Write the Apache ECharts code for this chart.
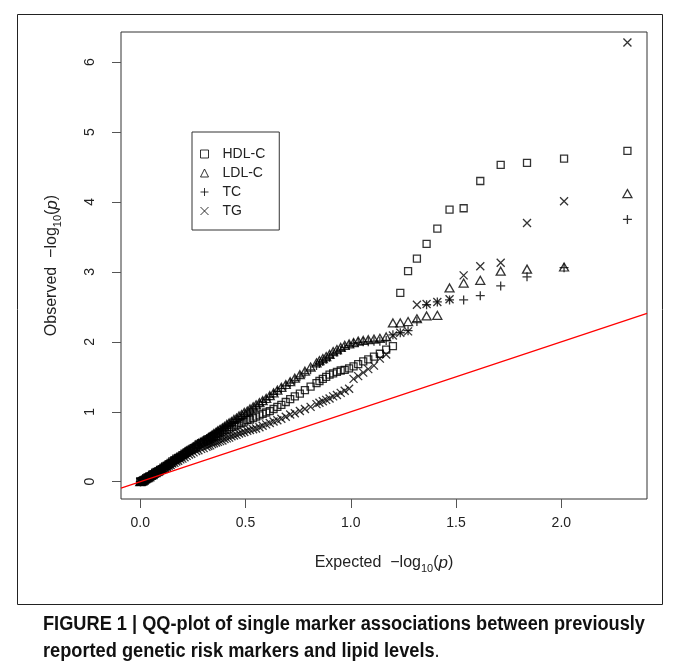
<!DOCTYPE html>
<html>
<head>
<meta charset="utf-8">
<script src="https://cdn.jsdelivr.net/npm/echarts@6/dist/echarts.min.js"></script>
<style>
html,body{margin:0;padding:0;background:#fff;}
#chart{width:673px;height:670px;}
</style>
</head>
<body>
<div id="chart"></div>
<script>
// Rank of each marker (sorted p-values) and its expected -log10(p)
const ranks = [1,2,3,4,5,6,7,8,9,10,11,12,13,14,15,16,17,18,19,20,21,22,23,24,25,26,27,28,29,30,
  32,34,36,38,40,42,44,46,48,50,52,54,56,58,
  60,62,64,66,68,70,72,74,76,78,80,82,84,86,88,90,92,94,96,98,
  100,103,106,109,112,115,118,121,124,127,130,133,136,139,142,145,148,151,154,157,160,163,166,169,172,175,178,181,184,187,190,193,196,199,202,205,206];
const expected = [2.314,2.013,1.837,1.712,1.615,1.536,1.469,1.411,1.360,1.314,1.272,1.235,1.200,1.168,1.138,1.110,1.083,1.059,1.035,1.013,0.992,0.971,0.952,0.934,0.916,0.899,0.883,0.867,0.851,0.837,
  0.809,0.782,0.758,0.734,0.712,0.691,0.670,0.651,0.633,0.615,0.598,0.581,0.566,0.550,
  0.536,0.521,0.508,0.494,0.481,0.469,0.457,0.445,0.433,0.422,0.411,0.400,0.390,0.379,0.369,0.360,0.350,0.341,0.332,0.323,
  0.314,0.301,0.289,0.276,0.265,0.253,0.242,0.231,0.220,0.210,0.200,0.190,0.180,0.171,0.162,0.152,0.144,0.135,0.126,0.118,0.110,0.102,0.094,0.086,0.078,0.071,0.063,0.056,0.049,0.042,0.035,0.028,0.022,0.015,0.009,0.002,0.000];

// Observed -log10(p) for each trait, same order as ranks
const hdlC = [4.73,4.62,4.56,4.53,4.30,3.91,3.89,3.62,3.40,3.19,3.01,2.70,1.94,1.89,1.83,1.79,1.75,1.72,1.68,1.65,1.62,1.60,1.59,1.57,1.55,1.53,1.50,1.47,1.44,1.41,
  1.36,1.31,1.26,1.22,1.18,1.14,1.10,1.07,1.04,1.01,0.99,0.97,0.95,0.93,
  0.91,0.89,0.88,0.86,0.84,0.83,0.81,0.79,0.78,0.76,0.74,0.73,0.71,0.70,0.68,0.66,0.65,0.64,0.62,0.61,
  0.59,0.57,0.55,0.53,0.50,0.48,0.46,0.44,0.42,0.40,0.38,0.36,0.34,0.33,0.31,0.29,0.27,0.25,0.23,0.22,0.20,0.18,0.17,0.15,0.14,0.13,0.11,0.10,0.08,0.07,0.06,0.05,0.03,0.02,0.01,0.00,0.00];
const ldlC = [4.12,3.07,3.04,3.01,2.88,2.84,2.77,2.38,2.37,2.33,2.29,2.27,2.27,2.07,2.05,2.04,2.03,2.02,2.01,1.99,1.97,1.95,1.92,1.89,1.86,1.82,1.79,1.76,1.73,1.70,
  1.64,1.58,1.53,1.48,1.43,1.39,1.35,1.31,1.27,1.23,1.19,1.16,1.13,1.10,
  1.07,1.04,1.01,0.99,0.96,0.94,0.91,0.89,0.86,0.84,0.82,0.79,0.77,0.75,0.73,0.71,0.69,0.67,0.65,0.63,
  0.61,0.59,0.57,0.55,0.53,0.50,0.48,0.46,0.44,0.42,0.39,0.37,0.35,0.34,0.32,0.30,0.28,0.26,0.24,0.23,0.21,0.19,0.18,0.16,0.15,0.13,0.12,0.10,0.09,0.07,0.06,0.05,0.04,0.02,0.01,0.01,0.00];
const tcVals = [3.75,3.06,2.93,2.80,2.66,2.60,2.60,2.57,2.53,2.29,2.16,2.13,2.10,2.02,2.01,2.01,2.00,2.00,1.99,1.98,1.95,1.92,1.88,1.85,1.82,1.78,1.75,1.72,1.69,1.66,
  1.60,1.55,1.50,1.45,1.41,1.37,1.33,1.29,1.25,1.21,1.17,1.14,1.10,1.07,
  1.04,1.01,0.98,0.96,0.93,0.91,0.89,0.86,0.84,0.82,0.80,0.78,0.76,0.74,0.72,0.70,0.68,0.66,0.64,0.62,
  0.60,0.58,0.56,0.54,0.52,0.49,0.47,0.45,0.43,0.41,0.39,0.37,0.35,0.33,0.31,0.29,0.28,0.26,0.24,0.22,0.21,0.19,0.17,0.16,0.14,0.13,0.11,0.10,0.09,0.07,0.06,0.05,0.04,0.02,0.01,0.00,0.00];
const tgVals = [6.28,4.01,3.70,3.13,3.08,2.95,2.61,2.57,2.54,2.53,2.15,2.13,2.09,1.82,1.76,1.66,1.61,1.56,1.51,1.47,1.33,1.30,1.27,1.24,1.22,1.19,1.17,1.15,1.13,1.11,
  1.07,1.04,1.01,0.98,0.96,0.93,0.90,0.88,0.86,0.84,0.82,0.80,0.78,0.76,
  0.75,0.74,0.73,0.71,0.70,0.69,0.67,0.66,0.65,0.63,0.62,0.61,0.59,0.58,0.57,0.56,0.55,0.54,0.52,0.51,
  0.50,0.48,0.47,0.45,0.44,0.42,0.40,0.39,0.37,0.35,0.33,0.32,0.30,0.29,0.27,0.26,0.24,0.23,0.21,0.20,0.18,0.17,0.16,0.14,0.13,0.12,0.10,0.09,0.08,0.07,0.06,0.04,0.03,0.02,0.01,0.00,0.00];

const seriesNames = ['HDL-C','LDL-C','TC','TG'];
const xTicks = [0, 0.5, 1, 1.5, 2];
const yTicks = [0, 1, 2, 3, 4, 5, 6];
const xRange = [-0.0917, 2.407];
const yRange = [-0.247, 6.43];
const diagonal = [xRange[0], xRange[1]];
const captionLines = ['FIGURE 1 | QQ-plot of single marker associations between previously',
                      'reported genetic risk markers and lipid levels'];

const FONT = "'Liberation Sans', Arial, sans-serif";
const PLUS = 'path://M5,0L5,10M0,5L10,5';
const CROSS = 'path://M0,0L10,10M10,0L0,10';
const symbols = ['rect', 'triangle', PLUS, CROSS];
const sizes = [7, [9, 8], 9, 8];

const openStyle = {color: 'transparent', borderColor: '#000', borderWidth: 1.3};

const pairs = vals => expected.map((x, k) => [x, vals[k]]);
const allVals = [hdlC, ldlC, tcVals, tgVals];

const series = seriesNames.map((name, s) => ({
  name: name,
  type: 'scatter',
  data: pairs(allVals[s]),
  symbol: symbols[s],
  symbolSize: sizes[s],
  itemStyle: openStyle,
  emphasis: {disabled: true},
  animation: false,
  z: 2
}));
series.push({
  name: 'ref',
  type: 'line',
  data: diagonal.map(v => [v, v]),
  symbol: 'none',
  lineStyle: {color: '#ff0000', width: 1.2},
  animation: false,
  silent: true,
  z: 5
});

// caption: condensed bold look via horizontal scaling
const capFont = "bold 20px 'Liberation Sans'";
const ctx = document.createElement('canvas').getContext('2d');
ctx.font = capFont;
const capScale = 602 / ctx.measureText(captionLines[0]).width;
const line2W = ctx.measureText(captionLines[1]).width * capScale;

const richName = {
  a: {fontFamily: FONT, fontSize: 16, color: '#222', lineHeight: 22},
  s: {fontFamily: FONT, fontSize: 11, color: '#222', lineHeight: 22, verticalAlign: 'bottom', padding: [7, 0, 0, 0]},
  i: {fontFamily: FONT, fontSize: 17, fontStyle: 'italic', color: '#222', lineHeight: 22}
};

const chart = echarts.init(document.getElementById('chart'), null, {renderer: 'canvas'});
chart.setOption({
  backgroundColor: '#fff',
  animation: false,
  graphic: [
    {type: 'rect', left: 15, top: 12, shape: {width: 645, height: 590},
     style: {fill: 'none', stroke: '#222', lineWidth: 1}, silent: true, z: -1},
    {type: 'text', x: 43, y: 624, scaleX: capScale, silent: true,
     style: {text: captionLines[0], font: capFont, fill: '#111', verticalAlign: 'middle'}},
    {type: 'text', x: 43, y: 651, scaleX: capScale, silent: true,
     style: {text: captionLines[1], font: capFont, fill: '#111', verticalAlign: 'middle'}},
    {type: 'text', x: 43 + line2W, y: 651, scaleX: capScale, silent: true,
     style: {text: '.', font: "20px 'Liberation Sans'", fill: '#111', verticalAlign: 'middle'}}
  ],
  legend: {
    orient: 'vertical', left: 192, top: 132,
    padding: [15, 14, 12, 8], itemGap: 5, itemWidth: 8, itemHeight: 8,
    borderColor: '#333', borderWidth: 1,
    textStyle: {fontFamily: FONT, fontSize: 14, color: '#222', padding: [0, 0, 0, 9]},
    data: seriesNames.map((n, s) => ({name: n, icon: symbols[s], itemStyle: {color: 'transparent', borderColor: '#000', borderWidth: 1}})),
    selectedMode: false
  },
  grid: {left: 121, top: 32, right: 26, bottom: 171, show: true, borderColor: '#333', borderWidth: 1, containLabel: false},
  xAxis: {
    type: 'value', min: xRange[0], max: xRange[1],
    name: '{a|Expected  \u2212log}{s|10}{a|(}{i|p}{a|)}',
    nameLocation: 'middle', nameGap: 53,
    nameTextStyle: {rich: richName},
    axisLine: {show: false, onZero: false},
    axisTick: {show: true, length: 9, customValues: xTicks, lineStyle: {color: '#555'}},
    axisLabel: {customValues: xTicks, formatter: v => v.toFixed(1), margin: 17, fontFamily: FONT, fontSize: 14, color: '#222'},
    splitLine: {show: false}
  },
  yAxis: {
    type: 'value', min: yRange[0], max: yRange[1],
    name: '{a|Observed  \u2212log}{s|10}{a|(}{i|p}{a|)}',
    nameLocation: 'middle', nameGap: 58, nameRotate: 90,
    nameTextStyle: {rich: richName},
    axisLine: {show: false, onZero: false},
    axisTick: {show: true, length: 9, customValues: yTicks, lineStyle: {color: '#555'}},
    axisLabel: {customValues: yTicks, rotate: 90, margin: 24, fontFamily: FONT, fontSize: 14, color: '#222'},
    splitLine: {show: false}
  },
  series: series
});
</script>
</body>
</html>
